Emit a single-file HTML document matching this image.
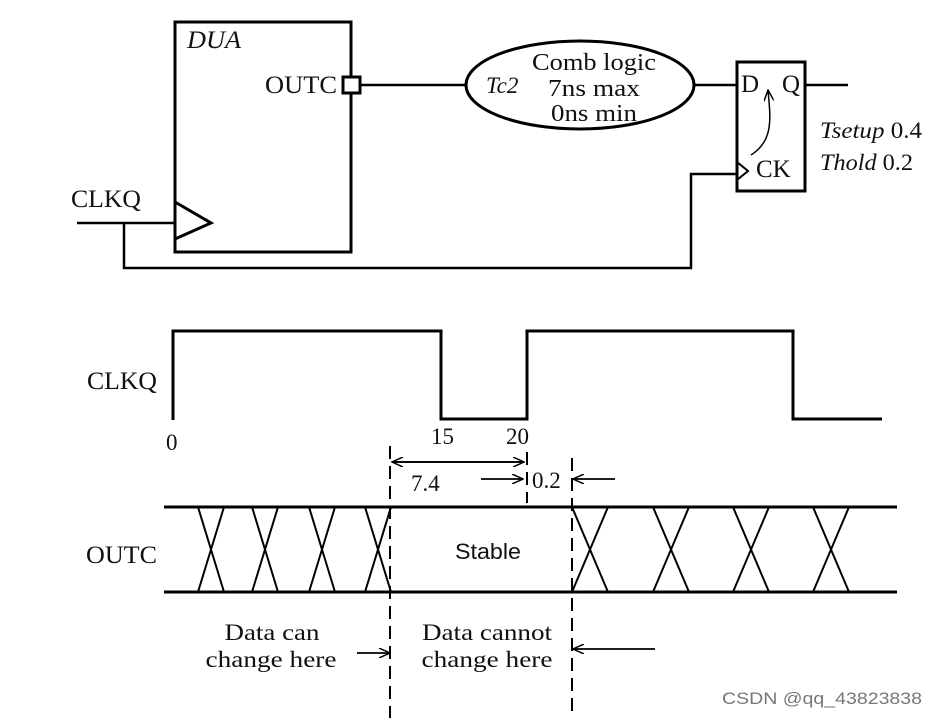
<!DOCTYPE html>
<html><head><meta charset="utf-8"><style>body{margin:0;background:#fff}svg{display:block}text{font-family:"Liberation Serif",serif;fill:#111}</style></head>
<body>
<svg width="937" height="718" viewBox="0 0 937 718" xmlns="http://www.w3.org/2000/svg">
<defs>
<marker id="ah" markerWidth="12" markerHeight="10" refX="11" refY="5" orient="auto" markerUnits="userSpaceOnUse"><path d="M0,0 L11,5 L0,10" fill="none" stroke="#000" stroke-width="1.5"/></marker>
</defs>
<g stroke="#000" stroke-width="3" fill="none">
<rect x="175" y="22" width="176" height="230"/>
<rect x="343" y="77" width="17" height="16" fill="#fff"/>
<path d="M175,202 L211,223 L175,239"/>
<ellipse cx="580" cy="85" rx="114" ry="44"/>
<rect x="737" y="62" width="68" height="129"/>
<path d="M737,162 L748,171 L737,180" stroke-width="2"/>
</g>
<g stroke="#000" stroke-width="2.5" fill="none">
<path d="M360,85 H466"/>
<path d="M694,85 H737"/>
<path d="M805,85 H848"/>
<path d="M77,223 H175"/>
<path d="M124,223 V268 H691 V174 H737"/>
</g>
<path d="M751,155 C775,140 770,115 768,90" stroke="#000" stroke-width="1.5" fill="none" marker-end="url(#ah)"/>
<text x="187" y="48" font-size="25" font-style="italic" textLength="54" lengthAdjust="spacingAndGlyphs">DUA</text>
<text x="265" y="93" font-size="25" textLength="72" lengthAdjust="spacingAndGlyphs">OUTC</text>
<text x="71" y="207" font-size="25" textLength="70" lengthAdjust="spacingAndGlyphs">CLKQ</text>
<text x="486" y="93" font-size="23" font-style="italic">Tc2</text>
<text x="594" y="70" font-size="24" text-anchor="middle" textLength="124" lengthAdjust="spacingAndGlyphs">Comb logic</text>
<text x="594" y="96" font-size="24" text-anchor="middle" textLength="92" lengthAdjust="spacingAndGlyphs">7ns max</text>
<text x="594" y="121" font-size="24" text-anchor="middle" textLength="86" lengthAdjust="spacingAndGlyphs">0ns min</text>
<text x="741" y="92" font-size="25">D</text>
<text x="782" y="92" font-size="25">Q</text>
<text x="756" y="177" font-size="25">CK</text>
<text x="820" y="138" font-size="23" textLength="102" lengthAdjust="spacingAndGlyphs"><tspan font-style="italic">Tsetup</tspan> 0.4</text>
<text x="820" y="170" font-size="23" textLength="93" lengthAdjust="spacingAndGlyphs"><tspan font-style="italic">Thold</tspan> 0.2</text>

<path d="M173,420 V331 H441 V419 H527 V331 H793 V419 H882" stroke="#000" stroke-width="3" fill="none"/>
<text x="87" y="389" font-size="25" textLength="70" lengthAdjust="spacingAndGlyphs">CLKQ</text>
<text x="166" y="450" font-size="23">0</text>
<text x="431" y="444" font-size="23">15</text>
<text x="506" y="444" font-size="23">20</text>

<g stroke="#000" stroke-width="2" fill="none" stroke-dasharray="13,7">
<path d="M390,446 V718"/>
<path d="M527,452 V503"/>
<path d="M572,458 V718"/>
</g>
<g stroke="#000" stroke-width="1.8" fill="none">
<path d="M392,462 H524" marker-end="url(#ah)"/>
<path d="M524,462 H392" marker-end="url(#ah)"/>
<path d="M481,479 H523" marker-end="url(#ah)"/>
<path d="M615,479 H573" marker-end="url(#ah)"/>
<path d="M357,653 H390" marker-end="url(#ah)"/>
<path d="M655,649 H573" marker-end="url(#ah)"/>
</g>
<text x="411" y="491" font-size="23">7.4</text>
<text x="532" y="488" font-size="23">0.2</text>

<g stroke="#000" stroke-width="3" fill="none">
<path d="M164,507 H897"/>
<path d="M164,592 H897"/>
</g>
<g stroke="#000" stroke-width="2" fill="none">
<path d="M198,507 L224,592 M224,507 L198,592"/>
<path d="M252,507 L278,592 M278,507 L252,592"/>
<path d="M309,507 L335,592 M335,507 L309,592"/>
<path d="M365,507 L391,592 M391,507 L365,592"/>
<path d="M572,507 L608,592 M608,507 L572,592"/>
<path d="M653,507 L689,592 M689,507 L653,592"/>
<path d="M733,507 L769,592 M769,507 L733,592"/>
<path d="M813,507 L849,592 M849,507 L813,592"/>
</g>
<text x="86" y="563" font-size="25" textLength="71" lengthAdjust="spacingAndGlyphs">OUTC</text>
<text x="488" y="559" font-size="22" text-anchor="middle" style="font-family:'Liberation Sans',sans-serif" textLength="66" lengthAdjust="spacingAndGlyphs">Stable</text>
<text x="272" y="640" font-size="23" text-anchor="middle" textLength="95" lengthAdjust="spacingAndGlyphs">Data can</text>
<text x="271" y="667" font-size="23" text-anchor="middle" textLength="131" lengthAdjust="spacingAndGlyphs">change here</text>
<text x="487" y="640" font-size="23" text-anchor="middle" textLength="130" lengthAdjust="spacingAndGlyphs">Data cannot</text>
<text x="487" y="667" font-size="23" text-anchor="middle" textLength="131" lengthAdjust="spacingAndGlyphs">change here</text>
<text x="722" y="704" font-size="17" style="font-family:'Liberation Sans',sans-serif;fill:#777" textLength="200" lengthAdjust="spacingAndGlyphs">CSDN @qq_43823838</text>
</svg>
</body></html>
